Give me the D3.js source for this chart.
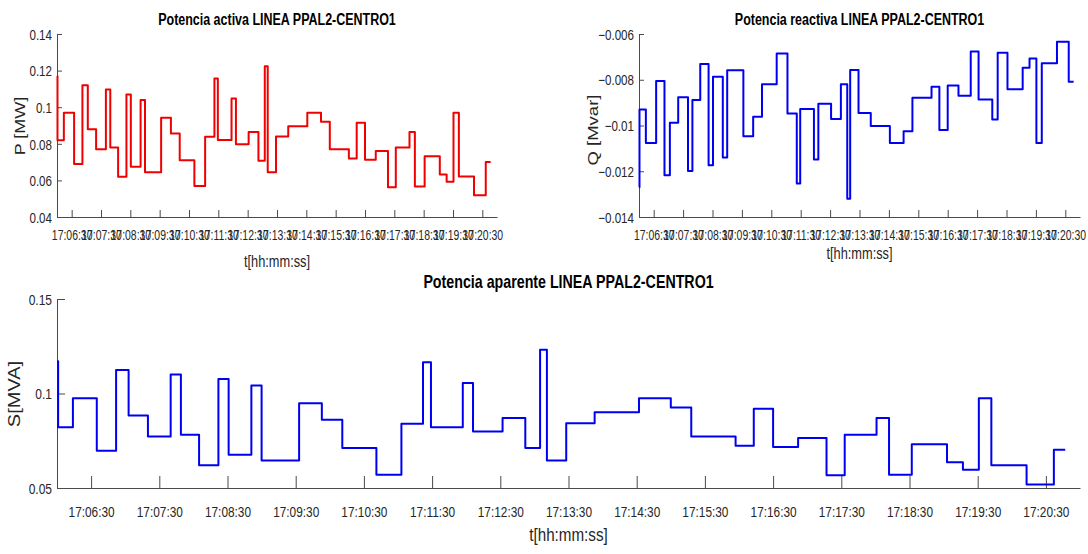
<!DOCTYPE html>
<html>
<head>
<meta charset="utf-8">
<script src="https://cdn.jsdelivr.net/npm/d3@7"></script>
<style>
  body { margin: 0; background: #fff; }
  svg { display: block; font-family: "Liberation Sans", Arial, sans-serif; }
  .axis path, .axis line { stroke: #4a4a4a; stroke-width: 1; }
  .axis text { fill: #262626; }
</style>
</head>
<body>
<svg id="chart" width="1088" height="554"></svg>
<script>
// sample instants, seconds after 17:06:00
var tSec = [0, 1, 14, 35, 52, 63, 80, 100, 109, 125, 142, 151, 171, 180, 213, 233, 251, 281, 303, 322,
  329, 357, 366, 392, 412, 425, 431, 448, 473, 512, 540, 558, 597, 613, 630, 652, 677, 693, 721, 732,
  752, 783, 797, 811, 822, 853, 877, 887];

// active power P [MW]
var pVals = [0.117, 0.082, 0.097, 0.069, 0.112, 0.088, 0.077, 0.1097, 0.078, 0.062, 0.107, 0.0675,
  0.104, 0.0645, 0.0942, 0.0856, 0.071, 0.057, 0.0838, 0.1157, 0.0821, 0.1048, 0.0797, 0.0865, 0.0708,
  0.1224, 0.0645, 0.084, 0.0896, 0.097, 0.092, 0.077, 0.072, 0.0915, 0.0713, 0.0761, 0.0562, 0.078,
  0.0865, 0.0567, 0.0732, 0.0632, 0.0593, 0.097, 0.0621, 0.0519, 0.0701];

// reactive power Q [Mvar]
var qVals = [-0.0127, -0.0093, -0.01076, -0.00806, -0.01218, -0.00988, -0.00877, -0.01199, -0.00889,
  -0.00731, -0.01174, -0.00787, -0.0114, -0.00758, -0.01047, -0.00962, -0.0082, -0.00685, -0.00947,
  -0.01254, -0.00928, -0.01149, -0.00905, -0.00972, -0.0082, -0.0132, -0.00757, -0.00945, -0.01002,
  -0.01076, -0.01025, -0.00879, -0.00831, -0.0102, -0.00825, -0.0087, -0.00677, -0.00886, -0.00974,
  -0.00682, -0.00841, -0.00747, -0.00707, -0.01076, -0.00728, -0.00634, -0.00809];

// apparent power S [MVA]
var sVals = [0.117, 0.0822, 0.0975, 0.0697, 0.1125, 0.0884, 0.0773, 0.110, 0.0782, 0.062, 0.1077,
  0.0676, 0.1042, 0.0646, 0.0949, 0.0861, 0.0711, 0.057, 0.084, 0.1166, 0.0822, 0.1055, 0.0799, 0.087,
  0.0711, 0.1231, 0.0646, 0.0843, 0.0901, 0.0975, 0.0926, 0.0773, 0.0724, 0.0919, 0.0717, 0.0764,
  0.0567, 0.0782, 0.087, 0.057, 0.0732, 0.0636, 0.0597, 0.0975, 0.062, 0.0518, 0.0703];

var timeDomain = ["17:06:00", "17:21:00"];
var xTickLabels = ["17:06:30", "17:07:30", "17:08:30", "17:09:30", "17:10:30", "17:11:30", "17:12:30",
  "17:13:30", "17:14:30", "17:15:30", "17:16:30", "17:17:30", "17:18:30", "17:19:30", "17:20:30"];

var pTicks = [0.04, 0.06, 0.08, 0.1, 0.12, 0.14];
var qTicks = [-0.014, -0.012, -0.01, -0.008, -0.006];
var sTicks = [0.05, 0.1, 0.15];

var parseT = d3.timeParse("%H:%M:%S");
var fmtT = d3.timeFormat("%H:%M:%S");
var t0 = parseT(timeDomain[0]);

var svg = d3.select("#chart");

function series(vals) {
  // hold the last value until the final sample instant
  var v = vals.concat([vals[vals.length - 1]]);
  return tSec.map(function(s, i) {
    return { t: new Date(t0.getTime() + s * 1000), v: v[i] };
  });
}

function drawPanel(c) {
  var x = d3.scaleTime()
    .domain(timeDomain.map(parseT))
    .range([c.left, c.left + c.width]);
  var y = d3.scaleLinear()
    .domain(c.yDomain)
    .range([c.top + c.height, c.top]);

  var xAxis = d3.axisBottom(x)
    .tickValues(xTickLabels.map(parseT))
    .tickFormat(fmtT)
    .tickSizeInner(-c.xTick)
    .tickSizeOuter(0);

  var yAxis = d3.axisLeft(y)
    .tickValues(c.yTicks)
    .tickFormat(d3.format("~g"))
    .tickSizeInner(-c.yTick)
    .tickSizeOuter(0);

  var gx = svg.append("g")
    .attr("class", "axis")
    .attr("transform", "translate(0," + (c.top + c.height) + ")")
    .call(xAxis);
  gx.selectAll("text")
    .attr("x", null).attr("y", null).attr("dy", null)
    .attr("text-anchor", "middle")
    .style("font-size", c.xFont + "px")
    .attr("transform", "translate(0," + c.xLabOff + ") scale(" + c.xSquash + ",1)");

  var gy = svg.append("g")
    .attr("class", "axis")
    .attr("transform", "translate(" + c.left + ",0)")
    .call(yAxis);
  gy.selectAll("text")
    .attr("x", null).attr("dy", "0.36em")
    .attr("text-anchor", "end")
    .style("font-size", c.yFont + "px")
    .attr("transform", "translate(-5,0) scale(0.8,1)");

  svg.append("path")
    .datum(series(c.vals))
    .attr("fill", "none")
    .attr("stroke", c.color)
    .attr("stroke-width", 2)
    .attr("stroke-linejoin", "round")
    .attr("d", d3.line().curve(d3.curveStepAfter)
      .x(function(d) { return x(d.t); })
      .y(function(d) { return y(d.v); }));

  var cx = c.left + c.width / 2;

  svg.append("text")
    .attr("text-anchor", "middle")
    .attr("font-weight", "bold")
    .style("font-size", c.titleFont + "px")
    .attr("fill", "#000")
    .attr("transform", "translate(" + cx + "," + c.titleY + ") scale(0.8,1)")
    .text(c.title);

  svg.append("text")
    .attr("text-anchor", "middle")
    .style("font-size", c.xLabFont + "px")
    .attr("fill", "#262626")
    .attr("transform", "translate(" + cx + "," + c.xLabY + ") scale(0.8,1)")
    .text("t[hh:mm:ss]");

  svg.append("text")
    .attr("text-anchor", "middle")
    .attr("dy", "0.35em")
    .style("font-size", c.yLabFont + "px")
    .attr("fill", "#262626")
    .attr("transform", "translate(" + c.yLabX + "," + c.yLabY + ") rotate(-90) scale(1,0.8)")
    .text(c.yLabel);
}

drawPanel({
  left: 57, top: 34, width: 440, height: 183,
  yDomain: [0.04, 0.14], yTicks: pTicks, vals: pVals, color: "#f00000",
  xTick: 7, yTick: 5, xFont: 14.5, xSquash: 0.72, xLabOff: 23, yFont: 14.5,
  title: "Potencia activa LINEA PPAL2-CENTRO1", titleFont: 15.6, titleY: 25,
  xLabFont: 16, xLabY: 267, yLabel: "P [MW]", yLabFont: 18, yLabX: 20, yLabY: 126
});

drawPanel({
  left: 639, top: 34, width: 441, height: 183,
  yDomain: [-0.014, -0.006], yTicks: qTicks, vals: qVals, color: "#0000f0",
  xTick: 7, yTick: 5, xFont: 14.5, xSquash: 0.72, xLabOff: 23, yFont: 14.5,
  title: "Potencia reactiva LINEA PPAL2-CENTRO1", titleFont: 15.6, titleY: 25,
  xLabFont: 16, xLabY: 259, yLabel: "Q [Mvar]", yLabFont: 18.5, yLabX: 593, yLabY: 130
});

drawPanel({
  left: 57, top: 299, width: 1023, height: 189,
  yDomain: [0.05, 0.15], yTicks: sTicks, vals: sVals, color: "#0000f0",
  xTick: 12, yTick: 8, xFont: 15, xSquash: 0.79, xLabOff: 29, yFont: 15,
  title: "Potencia aparente LINEA PPAL2-CENTRO1", titleFont: 17.8, titleY: 288,
  xLabFont: 19, xLabY: 541, yLabel: "S[MVA]", yLabFont: 20, yLabX: 14, yLabY: 394
});
</script>
</body>
</html>
